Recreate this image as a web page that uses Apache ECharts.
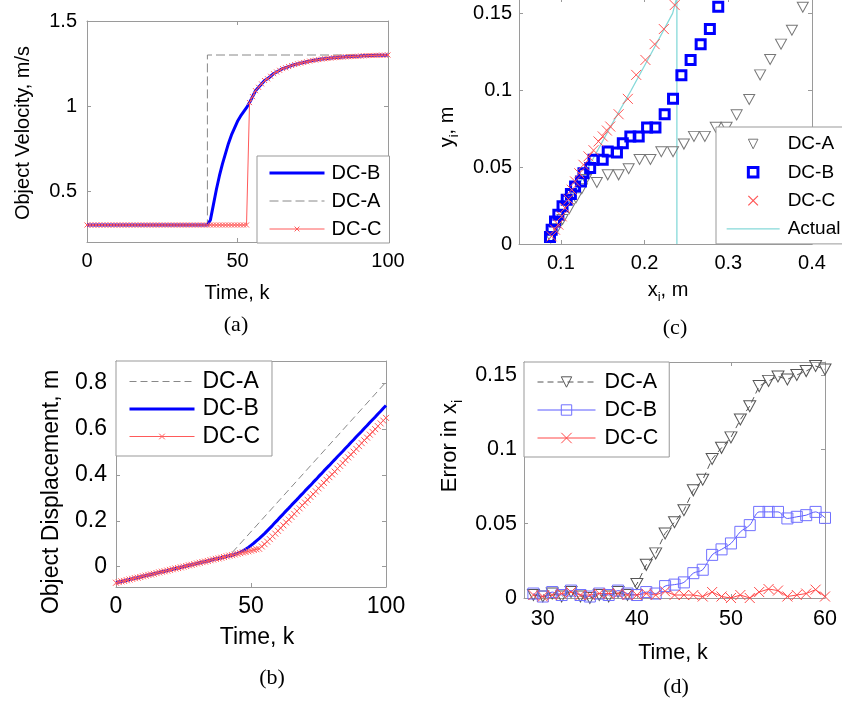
<!DOCTYPE html>
<html><head><meta charset="utf-8">
<script src="https://cdn.jsdelivr.net/npm/echarts@6/dist/echarts.min.js"></script>
<style>html,body{margin:0;padding:0;background:#fff}#c{width:842px;height:701px}</style>
</head><body><div id="c"></div>
<script>
// ---------- DATA ----------
const kSteps = [0,1,2,3,4,5,6,7,8,9,10,11,12,13,14,15,16,17,18,19,20,21,22,23,24,25,26,27,28,29,30,31,32,33,34,35,36,37,38,39,40,41,42,43,44,45,46,47,48,49,50,51,52,53,54,55,56,57,58,59,60,61,62,63,64,65,66,67,68,69,70,71,72,73,74,75,76,77,78,79,80,81,82,83,84,85,86,87,88,89,90,91,92,93,94,95,96,97,98,99,100];

// (a) Object velocity
const velA_k = [0, 40, 40, 100];
const velA_v = [0.3, 0.3, 1.3, 1.3];
const velB = [
0.3,0.3,0.3,0.3,0.3,0.3,0.3,0.3,0.3,0.3,
0.3,0.3,0.3,0.3,0.3,0.3,0.3,0.3,0.3,0.3,
0.3,0.3,0.3,0.3,0.3,0.3,0.3,0.3,0.3,0.3,
0.3,0.3,0.3,0.3,0.3,0.3,0.3,0.3,0.3,0.3,
0.3,0.33,0.42,0.51,0.59,0.66,0.72,0.78,0.83,0.87,
0.91,0.94,0.965,0.99,1.02,1.055,1.09,1.11,1.13,1.15,
1.16,1.175,1.19,1.2,1.21,1.22,1.225,1.232,1.238,1.244,
1.248,1.252,1.256,1.26,1.264,1.268,1.27,1.273,1.276,1.278,
1.28,1.282,1.284,1.285,1.287,1.288,1.289,1.29,1.291,1.292,
1.293,1.294,1.295,1.296,1.297,1.297,1.298,1.298,1.299,1.299,
1.3];
const velC = [
0.3,0.3,0.3,0.3,0.3,0.3,0.3,0.3,0.3,0.3,
0.3,0.3,0.3,0.3,0.3,0.3,0.3,0.3,0.3,0.3,
0.3,0.3,0.3,0.3,0.3,0.3,0.3,0.3,0.3,0.3,
0.3,0.3,0.3,0.3,0.3,0.3,0.3,0.3,0.3,0.3,
0.3,0.3,0.3,0.3,0.3,0.3,0.3,0.3,0.3,0.3,
0.3,0.3,0.3,0.3,1.02,1.055,1.09,1.11,1.13,1.15,
1.16,1.175,1.19,1.2,1.21,1.22,1.225,1.232,1.238,1.244,
1.248,1.252,1.256,1.26,1.264,1.268,1.27,1.273,1.276,1.278,
1.28,1.282,1.284,1.285,1.287,1.288,1.289,1.29,1.291,1.292,
1.293,1.294,1.295,1.296,1.297,1.297,1.298,1.298,1.299,1.299,
1.3];

// (b) Object displacement
const dispA_k = [0, 42, 100];
const dispA_v = [-0.07, 0.048, 0.804];
const dispB = [
-0.070,-0.067,-0.064,-0.062,-0.059,-0.056,-0.053,-0.050,-0.048,-0.045,
-0.042,-0.039,-0.036,-0.034,-0.031,-0.028,-0.025,-0.022,-0.020,-0.017,
-0.014,-0.011,-0.008,-0.006,-0.003,0.000,0.003,0.006,0.008,0.011,
0.014,0.017,0.020,0.022,0.025,0.028,0.031,0.034,0.036,0.039,
0.042,0.045,0.048,0.050,0.054,0.058,0.063,0.069,0.076,0.084,
0.093,0.102,0.112,0.122,0.133,0.144,0.156,0.168,0.180,0.193,
0.205,0.218,0.230,0.243,0.255,0.268,0.280,0.292,0.305,0.317,
0.330,0.342,0.354,0.367,0.379,0.392,0.404,0.417,0.429,0.441,
0.454,0.466,0.479,0.491,0.503,0.516,0.528,0.541,0.553,0.566,
0.578,0.590,0.603,0.615,0.628,0.640,0.652,0.665,0.677,0.690,
0.702];
const dispC = [
-0.070,-0.067,-0.064,-0.062,-0.059,-0.056,-0.053,-0.050,-0.048,-0.045,
-0.042,-0.039,-0.036,-0.034,-0.031,-0.028,-0.025,-0.022,-0.020,-0.017,
-0.014,-0.011,-0.008,-0.006,-0.003,0.000,0.003,0.006,0.008,0.011,
0.014,0.017,0.020,0.022,0.025,0.028,0.031,0.034,0.036,0.039,
0.042,0.045,0.048,0.050,0.053,0.056,0.059,0.062,0.064,0.067,
0.070,0.073,0.076,0.078,0.088,0.098,0.109,0.120,0.132,0.144,
0.156,0.168,0.180,0.193,0.205,0.217,0.230,0.242,0.254,0.267,
0.279,0.291,0.304,0.316,0.328,0.341,0.353,0.365,0.378,0.390,
0.402,0.414,0.427,0.439,0.451,0.464,0.476,0.488,0.501,0.513,
0.525,0.538,0.550,0.562,0.575,0.587,0.599,0.612,0.624,0.636,
0.648];

// (c) trajectories x_i, y_i
const trajA_x = [0.088,0.095,0.102,0.110,0.118,0.125,0.130,0.143,0.156,0.169,0.181,0.194,0.207,0.220,0.234,0.247,0.259,0.272,0.285,0.298,0.310,0.325,0.338,0.350,0.363,0.376,0.389];
const trajA_y = [0.004,0.010,0.016,0.023,0.030,0.036,0.042,0.040,0.045,0.045,0.049,0.055,0.055,0.060,0.060,0.065,0.070,0.070,0.076,0.076,0.084,0.094,0.110,0.120,0.130,0.139,0.154];
const trajB_x = [0.087,0.089,0.093,0.097,0.102,0.107,0.112,0.117,0.124,0.127,0.135,0.139,0.150,0.156,0.167,0.174,0.183,0.193,0.203,0.213,0.224,0.234,0.244,0.255,0.267,0.278,0.288];
const trajB_y = [0.0045,0.0093,0.0147,0.019,0.0245,0.0288,0.0325,0.0374,0.0407,0.046,0.0494,0.0548,0.0548,0.0602,0.0595,0.0656,0.070,0.070,0.0758,0.0758,0.0844,0.0944,0.1097,0.1197,0.130,0.1398,0.1543];
const trajC_x = [0.089,0.093,0.097,0.101,0.105,0.109,0.113,0.117,0.122,0.127,0.133,0.139,0.145,0.150,0.155,0.159,0.169,0.180,0.190,0.201,0.212,0.223,0.236];
const trajC_y = [0.005,0.0093,0.0126,0.018,0.0234,0.029,0.0353,0.0407,0.046,0.0515,0.057,0.061,0.0667,0.070,0.0738,0.0764,0.0844,0.0944,0.110,0.1197,0.130,0.1398,0.1554];
const actual_x = [0.086,0.110,0.133,0.158,0.184,0.209,0.2335,0.2386,0.2386];
const actual_y = [0.003,0.027,0.050,0.075,0.100,0.125,0.150,0.1605,0];

// (d) error in x_i
const kD = [29,30,31,32,33,34,35,36,37,38,39,40,41,42,43,44,45,46,47,48,49,50,51,52,53,54,55,56,57,58,59,60];
const errA = [0.002,0.001,0.003,0.001,0.004,0.001,0.000,0.002,0.001,0.004,0.002,0.0094,0.0223,0.030,0.0434,0.051,0.059,0.0724,0.0795,0.0935,0.101,0.108,0.120,0.129,0.1425,0.146,0.149,0.147,0.150,0.1526,0.156,0.1537];
const errB = [0.003,0.001,0.004,0.002,0.005,0.002,0.001,0.003,0.002,0.005,0.003,0.002,0.004,0.003,0.008,0.009,0.0105,0.0167,0.019,0.029,0.0327,0.0367,0.0445,0.049,0.0579,0.0579,0.0579,0.0535,0.0546,0.0557,0.0579,0.0539];
const errC = [0.002,0.001,0.002,0.003,0.004,0.002,0.002,0.003,0.003,0.003,0.002,0.002,0.003,0.002,0.0045,0.002,0.002,0.002,0.001,0.004,0.001,0.000,0.002,0.000,0.004,0.006,0.005,0.001,0.002,0.003,0.0056,0.001];

// tick labels
const ticksA_x = [0,50,100], ticksA_y = [0.5,1,1.5];
const ticksB_x = [0,50,100], ticksB_y = [0,0.2,0.4,0.6,0.8];
const ticksC_x = [0.1,0.2,0.3,0.4], ticksC_y = [0,0.05,0.1,0.15];
const ticksD_x = [30,40,50,60], ticksD_y = [0,0.05,0.1,0.15];

// ---------- STYLE / BUILD ----------
const FONT = '"Liberation Sans", Arial, Helvetica, sans-serif';
const SERIF = '"Liberation Serif", "Times New Roman", serif';
const AX = '#9a9a9a';
const T = 'rgba(0,0,0,0)';
const XSYM = 'path://M0,0L10,10M10,0L0,10';
const TRI = 'path://M0,0L10,0L5,9Z';
const RED = '#ff5a5a', BLUE = '#0000ff', GRAY = '#888888', CRED = '#ff5555', CYAN = '#86d9d9';
const zip = (xs, ys) => xs.map((x, i) => [x, ys[i]]);

const grids = [
  {left:87, top:21, width:301, height:221},
  {left:116, top:361, width:270, height:226},
  {left:519, top:-2, width:293, height:246},
  {left:524, top:362, width:301, height:236}
].map(g => Object.assign({outerBoundsMode:'none', containLabel:false, show:false}, g));

function axes(g, isX, min, max, ticks, fs, margin) {
  const common = () => ({type:'value', gridIndex:g, min, max, splitLine:{show:false},
    axisLine:{show:true, onZero:false, lineStyle:{color:AX, width:1}},
    axisTick:{show:true, inside:true, length:4, customValues:ticks, lineStyle:{color:AX}}});
  const main = Object.assign(common(), {position: isX ? 'bottom' : 'left',
    axisLabel:{show:true, customValues:ticks, margin, color:'#000', fontSize:fs, fontFamily:FONT}});
  const opp = Object.assign(common(), {position: isX ? 'top' : 'right', axisLabel:{show:false}});
  return [main, opp];
}
const xAxis = [].concat(
  axes(0, true, 0, 100, ticksA_x, 20, 9),
  axes(1, true, 0, 100, ticksB_x, 23, 8),
  axes(2, true, 0.05, 0.4, ticksC_x, 20, 9),
  axes(3, true, 28, 60, ticksD_x, 21.5, 10));
const yAxis = [].concat(
  axes(0, false, 0.2, 1.5, ticksA_y, 20, 10),
  axes(1, false, -0.0885, 0.8957, ticksB_y, 23, 9),
  axes(2, false, 0, 0.16, ticksC_y, 20, 7),
  axes(3, false, 0, 0.1587, ticksD_y, 21.5, 7));

function ser(name, g, data, o) {
  return Object.assign({name, type:'line', xAxisIndex:2*g, yAxisIndex:2*g, data,
    showAllSymbol:true, animation:false, silent:true, symbol:'none'}, o);
}
const series = [
  // (a)
  ser('a|DC-A', 0, zip(velA_k, velA_v), {lineStyle:{color:GRAY, width:1, type:[9,4]}, itemStyle:{color:T}}),
  ser('a|DC-B', 0, zip(kSteps, velB), {lineStyle:{color:BLUE, width:3}, itemStyle:{color:T}}),
  ser('a|DC-C', 0, zip(kSteps, velC), {symbol:XSYM, symbolSize:5, lineStyle:{color:RED, width:1}, itemStyle:{color:T, borderColor:RED, borderWidth:1}}),
  // (b)
  ser('b|DC-A', 1, zip(dispA_k, dispA_v), {lineStyle:{color:GRAY, width:1, type:[7,4]}, itemStyle:{color:T}}),
  ser('b|DC-B', 1, zip(kSteps, dispB), {lineStyle:{color:BLUE, width:3}, itemStyle:{color:T}}),
  ser('b|DC-C', 1, zip(kSteps, dispC), {symbol:XSYM, symbolSize:6, lineStyle:{color:RED, width:1}, itemStyle:{color:T, borderColor:RED, borderWidth:1}}),
  // (c)
  ser('c|DC-A', 2, zip(trajA_x, trajA_y), {symbol:TRI, symbolSize:[11,10], lineStyle:{color:'#777', opacity:0}, itemStyle:{color:T, borderColor:'#777', borderWidth:1}}),
  ser('c|DC-B', 2, zip(trajB_x, trajB_y), {symbol:'rect', symbolSize:9, lineStyle:{color:BLUE, opacity:0}, itemStyle:{color:T, borderColor:BLUE, borderWidth:3}}),
  ser('c|DC-C', 2, zip(trajC_x, trajC_y), {symbol:XSYM, symbolSize:10, lineStyle:{color:CRED, opacity:0}, itemStyle:{color:T, borderColor:CRED, borderWidth:1}}),
  ser('c|Actual', 2, zip(actual_x, actual_y), {lineStyle:{color:CYAN, width:1.3}, itemStyle:{color:T}}),
  // (d)
  ser('d|DC-A', 3, zip(kD, errA), {symbol:TRI, symbolSize:[12,11], lineStyle:{color:'#555', width:1, type:[6,4]}, itemStyle:{color:T, borderColor:'#555', borderWidth:1}}),
  ser('d|DC-B', 3, zip(kD, errB), {symbol:'rect', symbolSize:11, smooth:0.3, lineStyle:{color:'#5a5aff', width:1}, itemStyle:{color:T, borderColor:'#7070ff', borderWidth:1}}),
  ser('d|DC-C', 3, zip(kD, errC), {symbol:XSYM, symbolSize:10, lineStyle:{color:'#ff4848', width:1}, itemStyle:{color:T, borderColor:'#ff4848', borderWidth:1}})
];

const fmt = n => n.split('|')[1];
function legend(left, top, padding, itemWidth, itemHeight, itemGap, fs, lh, textPad, data) {
  return {show:true, orient:'vertical', left, top, padding, itemWidth, itemHeight, itemGap,
    selectedMode:false, backgroundColor:'#fff', borderColor:'#999', borderWidth:1, borderRadius:0,
    formatter: fmt, textStyle:{fontSize:fs, fontFamily:FONT, color:'#000', lineHeight:lh, padding:[0,0,0,textPad]}, data};
}
const noSym = {opacity:0, color:T, borderWidth:0};
const legends = [
  legend(257, 156, [7,8,4,11], 55, 6, 8, 20, 20, 2, [
    {name:'a|DC-B', itemStyle:noSym, lineStyle:{color:BLUE, width:3, type:'solid', opacity:1}},
    {name:'a|DC-A', itemStyle:noSym, lineStyle:{color:GRAY, width:1, type:[9,4], opacity:1}},
    {name:'a|DC-C', itemStyle:{color:T, borderColor:RED, borderWidth:1, opacity:1}, lineStyle:{color:RED, width:1, type:'solid', opacity:1}}
  ]),
  legend(116, 361, [9,12,8,12], 65, 7, 4.5, 23, 23, 3, [
    {name:'b|DC-A', itemStyle:noSym, lineStyle:{color:GRAY, width:1, type:[7,4], opacity:1}},
    {name:'b|DC-B', itemStyle:noSym, lineStyle:{color:BLUE, width:3, type:'solid', opacity:1}},
    {name:'b|DC-C', itemStyle:{color:T, borderColor:RED, borderWidth:1, opacity:1}, lineStyle:{color:RED, width:1, type:'solid', opacity:1}}
  ]),
  legend(716, 127, [7,40,5,10], 53, 12, 8.3, 19, 20, 3, [
    {name:'c|DC-A', itemStyle:{color:T, borderColor:'#777', borderWidth:1, opacity:1}, lineStyle:{color:'#777', width:0, opacity:0}},
    {name:'c|DC-B', itemStyle:{color:T, borderColor:BLUE, borderWidth:3, opacity:1}, lineStyle:{color:BLUE, width:0, opacity:0}},
    {name:'c|DC-C', itemStyle:{color:T, borderColor:CRED, borderWidth:1.2, opacity:1}, lineStyle:{color:CRED, width:0, opacity:0}},
    {name:'c|Actual', itemStyle:noSym, lineStyle:{color:CYAN, width:1.3, type:'solid', opacity:1}}
  ]),
  legend(524, 362, [9,11,8,13], 58, 13, 6, 21.5, 22, 4, [
    {name:'d|DC-A', itemStyle:{color:T, borderColor:'#555', borderWidth:1, opacity:1}, lineStyle:{color:'#555', width:1, type:[6,4], opacity:1}},
    {name:'d|DC-B', itemStyle:{color:T, borderColor:'#7070ff', borderWidth:1, opacity:1}, lineStyle:{color:'#5a5aff', width:1, type:'solid', opacity:1}},
    {name:'d|DC-C', itemStyle:{color:T, borderColor:'#ff4848', borderWidth:1, opacity:1}, lineStyle:{color:'#ff4848', width:1, type:'solid', opacity:1}}
  ])
];

function txt(x, y, text, fs, rot, family) {
  return {type:'text', x, y, rotation: rot ? Math.PI/2 : 0, silent:true,
    style:{text, fontSize:fs, fontFamily:family || FONT, fill:'#000', align:'center', verticalAlign:'middle'}};
}
function sub(x, y, main1, s, main2, fs, rot) {
  const sfs = Math.round(fs*0.65);
  return {type:'text', x, y, rotation: rot ? Math.PI/2 : 0, silent:true,
    style:{text:'{n|'+main1+'}{s|'+s+'}' + (main2 ? '{n|'+main2+'}' : ''), align:'center', verticalAlign:'middle',
      rich:{n:{fontSize:fs, fontFamily:FONT, fill:'#000', lineHeight:fs+6, verticalAlign:'middle'},
            s:{fontSize:sfs, fontFamily:FONT, fill:'#000', lineHeight:sfs, padding:[fs*0.75,0,0,0], verticalAlign:'middle'}}}};
}
const graphic = [
  txt(237, 293, 'Time, k', 20),
  txt(23, 133, 'Object Velocity, m/s', 20, true),
  txt(257, 638, 'Time, k', 23),
  txt(52, 492, 'Object Displacement, m', 23, true),
  sub(668, 290, 'x', 'i', ', m', 20),
  sub(447, 127, 'y', 'i', ', m', 20, true),
  txt(673, 653, 'Time, k', 21.5),
  sub(450, 446, 'Error in x', 'i', '', 22, true),
  txt(236, 325, '(a)', 22, false, SERIF),
  txt(272, 678, '(b)', 22, false, SERIF),
  txt(675, 328, '(c)', 22, false, SERIF),
  txt(676, 687, '(d)', 22, false, SERIF)
];

const chart = echarts.init(document.getElementById('c'), null, {renderer:'canvas'});
chart.setOption({animation:false, backgroundColor:'#fff', grid:grids, xAxis, yAxis, series, legend:legends, graphic});
</script>
</body></html>
